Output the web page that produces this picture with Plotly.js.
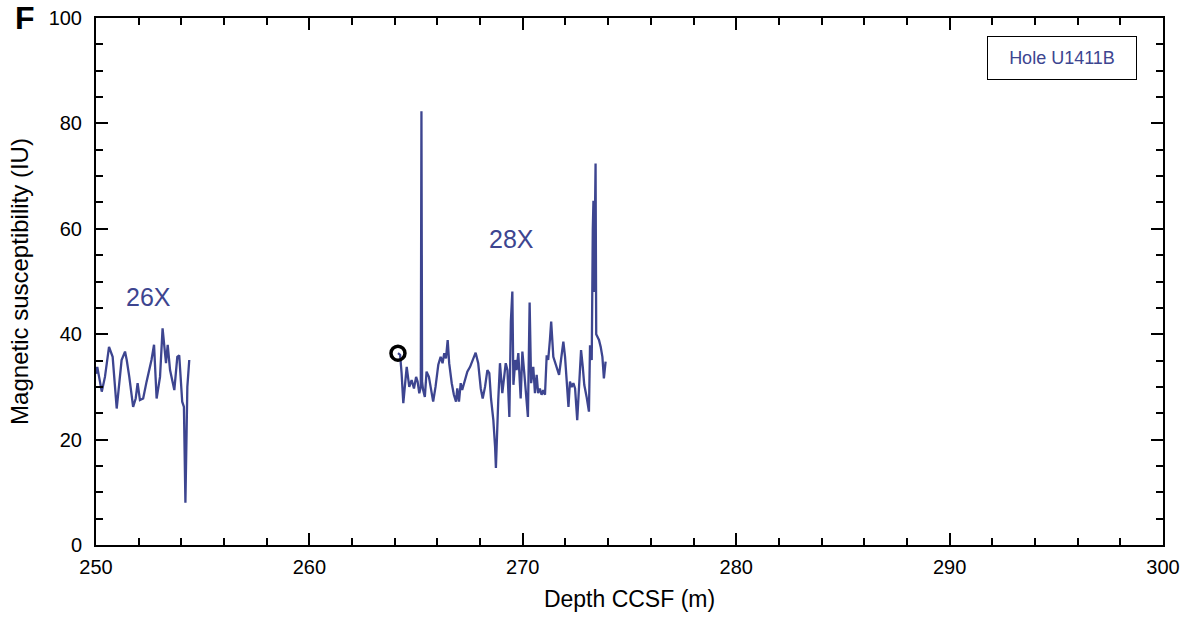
<!DOCTYPE html>
<html>
<head>
<meta charset="utf-8">
<script src="https://cdn.plot.ly/plotly-3.0.1.min.js"></script>
<style>html,body{margin:0;padding:0;background:#fff}#chart{width:1189px;height:620px}</style>
</head>
<body>
<div id="chart"></div>
<script>
// Core 26X
var depth26 = [250.0, 250.06, 250.27, 250.42, 250.61, 250.78, 250.97, 251.08, 251.2, 251.36, 251.44, 251.56, 251.74, 251.86, 251.95, 252.06, 252.21, 252.37, 252.6, 252.72, 252.84, 253.0, 253.12, 253.28, 253.36, 253.47, 253.67, 253.81, 253.9, 254.04, 254.12, 254.19, 254.28, 254.37];
var ms26 = [32.5, 33.8, 29.1, 31.9, 37.6, 35.7, 25.9, 30.0, 35.1, 36.7, 35.1, 31.9, 26.2, 27.8, 30.7, 27.5, 27.8, 31.0, 35.1, 38.0, 27.8, 31.9, 41.1, 34.5, 38.0, 33.2, 29.4, 35.7, 36.0, 27.2, 26.2, 8.0, 30.0, 35.1];
// Core 28X
var depth28 = [264.15, 264.25, 264.32, 264.4, 264.48, 264.56, 264.68, 264.79, 264.9, 265.0, 265.07, 265.15, 265.22, 265.25, 265.28, 265.33, 265.41, 265.49, 265.6, 265.72, 265.8, 265.91, 266.04, 266.15, 266.24, 266.32, 266.4, 266.48, 266.55, 266.67, 266.77, 266.87, 266.93, 267.01, 267.09, 267.16, 267.29, 267.4, 267.53, 267.68, 267.79, 267.91, 268.03, 268.12, 268.23, 268.34, 268.43, 268.51, 268.62, 268.7, 268.74, 268.85, 268.93, 269.04, 269.12, 269.2, 269.28, 269.37, 269.44, 269.51, 269.56, 269.65, 269.71, 269.79, 269.9, 269.98, 270.07, 270.15, 270.24, 270.32, 270.39, 270.49, 270.57, 270.65, 270.72, 270.8, 270.88, 270.96, 271.04, 271.12, 271.19, 271.27, 271.33, 271.43, 271.51, 271.59, 271.7, 271.79, 271.9, 271.98, 272.06, 272.14, 272.21, 272.29, 272.37, 272.45, 272.55, 272.65, 272.73, 272.81, 272.88, 272.99, 273.1, 273.15, 273.23, 273.28, 273.31, 273.34, 273.38, 273.41, 273.44, 273.57, 273.65, 273.73, 273.8, 273.88];
var ms28 = [36.4, 36.1, 32.6, 26.9, 30.4, 33.8, 30.0, 31.3, 29.7, 31.9, 31.0, 28.8, 30.0, 82.3, 31.0, 29.4, 28.1, 32.9, 31.9, 28.8, 27.2, 30.0, 34.2, 35.7, 34.5, 36.4, 35.4, 38.9, 34.5, 30.7, 28.5, 27.2, 29.7, 27.2, 30.7, 29.4, 31.6, 32.9, 33.8, 35.4, 36.5, 34.5, 29.7, 27.8, 30.0, 33.2, 32.6, 27.8, 23.7, 18.7, 14.6, 27.5, 34.5, 28.8, 31.3, 34.5, 33.2, 24.3, 42.4, 48.1, 30.4, 35.1, 33.2, 36.4, 27.8, 36.7, 32.6, 28.1, 24.3, 46.0, 30.7, 33.8, 28.8, 32.3, 28.8, 29.7, 28.5, 29.4, 28.5, 36.0, 35.1, 38.9, 42.4, 35.7, 34.8, 33.5, 32.3, 35.1, 38.6, 35.7, 31.6, 26.2, 31.0, 30.0, 30.7, 29.7, 23.7, 32.6, 37.0, 33.8, 30.4, 28.1, 25.3, 37.9, 35.1, 60.0, 65.3, 48.0, 62.0, 72.4, 40.0, 38.9, 37.6, 35.7, 31.6, 34.8];
// Marked point (open circle)
var markDepth = [264.15];
var markMS = [36.4];
// Core labels
var coreLabels = ["26X", "28X"];
var coreLabelX = [252.45, 269.45];
var coreLabelY = [47, 58];
var holeName = "Hole U1411B";

var lineColor = "#3d4590";
var font = "Liberation Sans, Arial, Helvetica, sans-serif";

var traces = [
  {x: depth26, y: ms26, type: "scatter", mode: "lines", line: {color: lineColor, width: 2.3}},
  {x: depth28, y: ms28, type: "scatter", mode: "lines", line: {color: lineColor, width: 2.3}},
  {x: markDepth, y: markMS, type: "scatter", mode: "markers", marker: {symbol: "circle-open", size: 14, color: "black", line: {width: 3.5, color: "black"}}}
];

var annotations = coreLabels.map(function(t, i) {
  return {x: coreLabelX[i], y: coreLabelY[i], xref: "x", yref: "y", text: t, showarrow: false,
          font: {family: font, size: 25, color: lineColor}};
});
annotations.push({x: 0.905, y: 0.9245, xref: "paper", yref: "paper", text: holeName, showarrow: false,
  font: {family: font, size: 18, color: lineColor}, bordercolor: "black", borderwidth: 1,
  borderpad: 11, bgcolor: "white", xanchor: "center", yanchor: "middle", width: 126});
annotations.push({x: -0.078, y: 1.0, xref: "paper", yref: "paper", text: "<b>F</b>",
  showarrow: false, xanchor: "left", yanchor: "middle", font: {family: font, size: 32, color: "black"}});

var axisCommon = {
  showgrid: false, zeroline: false, showline: true, linecolor: "black", linewidth: 2,
  mirror: "ticks", ticks: "inside", ticklen: 12, tickwidth: 2, tickcolor: "black",
  tickfont: {family: font, size: 20, color: "black"}
};

var layout = {
  width: 1189, height: 620,
  margin: {l: 96, r: 26, t: 18, b: 75},
  paper_bgcolor: "white", plot_bgcolor: "white",
  showlegend: false,
  xaxis: Object.assign({}, axisCommon, {
    range: [250, 300], dtick: 10, tick0: 250, ticklabelstandoff: 3,
    minor: {dtick: 2, ticklen: 7, tickwidth: 2, tickcolor: "black", ticks: "inside"},
    title: {text: "Depth CCSF (m)", font: {family: font, size: 23, color: "black"}, standoff: 14}
  }),
  yaxis: Object.assign({}, axisCommon, {
    range: [0, 100], dtick: 20, tick0: 0, ticklabelstandoff: 8,
    minor: {dtick: 5, ticklen: 7, tickwidth: 2, tickcolor: "black", ticks: "inside"},
    title: {text: "Magnetic susceptibility (IU)", font: {family: font, size: 24, color: "black"}, standoff: 13}
  }),
  annotations: annotations
};

Plotly.newPlot("chart", traces, layout, {staticPlot: true, displayModeBar: false});
</script>
</body>
</html>
